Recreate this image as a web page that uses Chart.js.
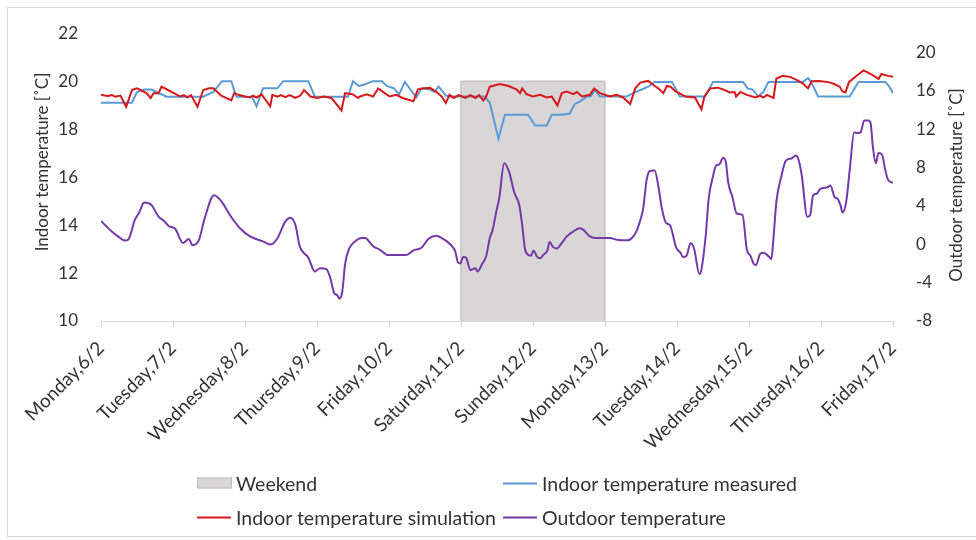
<!DOCTYPE html>
<html>
<head>
<meta charset="utf-8">
<script src="https://cdn.jsdelivr.net/npm/chart.js@4.4.1/dist/chart.umd.min.js"></script>
<style>
    body { margin: 0; background: #fff; }
    #wrap { position: relative; width: 976px; height: 540px; overflow: hidden; }
    #frame { position: absolute; left: 7px; top: 7px; width: 990px; height: 528px;
             border: 1px solid #d9d9d9; border-right: none; }
    #legend .item { position: absolute; transform: translateY(-50%); display: flex; align-items: center;
                    font: 19.5px Lato, sans-serif; color: #333; white-space: nowrap; }
    #legend .box { display: inline-block; width: 35px; height: 11px; margin-right: 4px;
                   border: 1px solid #bfbfbf; box-sizing: border-box; }
    #legend .line { display: inline-block; width: 34px; height: 2px; margin-right: 5px; }
</style>
</head>
<body>
<div id="wrap">
    <div id="frame"></div>
    <canvas id="chart-sheet" width="976" height="540"></canvas>
    <div id="legend"></div>
</div>
<script>
// x is in days, 0 = Monday 6/2 at midnight
var dayLabels = ['Monday,6/2', 'Tuesday,7/2', 'Wednesday,8/2', 'Thursday,9/2', 'Friday,10/2',
    'Saturday,11/2', 'Sunday,12/2', 'Monday,13/2', 'Tuesday,14/2', 'Wednesday,15/2',
    'Thursday,16/2', 'Friday,17/2'];

// tick values for the outdoor axis
var rightTicks = [-8, -4, 0, 4, 8, 12, 16, 20];

// weekend band: start and end day, top value on the indoor axis
var weekendDays = [5, 7];
var weekendTop = 20;

// indoor temperature measured [day, degC]
var measured = [[0, 19.1], [0.43, 19.1], [0.5, 19.55], [0.6, 19.65], [0.7, 19.65], [0.91, 19.35],
    [1.42, 19.35], [1.56, 19.55], [1.68, 20], [1.81, 20], [1.88, 19.35], [2.1, 19.35], [2.16, 18.95],
    [2.25, 19.7], [2.45, 19.7], [2.53, 20], [2.88, 20], [2.97, 19.35], [3.43, 19.35], [3.5, 20],
    [3.58, 19.8], [3.65, 19.85], [3.78, 20], [3.9, 20], [3.97, 19.8], [4.07, 19.7], [4.14, 19.45],
    [4.22, 19.97], [4.38, 19.32], [4.45, 19.7], [4.57, 19.65], [4.63, 19.55], [4.69, 19.77],
    [4.79, 19.4], [4.85, 19.36], [5.33, 19.36], [5.4, 19.1], [5.52, 17.6], [5.61, 18.6], [5.93, 18.6],
    [6.03, 18.15], [6.19, 18.15], [6.26, 18.6], [6.4, 18.6], [6.51, 18.65], [6.58, 19.05],
    [6.65, 19.15], [6.75, 19.36], [6.8, 19.36], [6.86, 19.63], [6.93, 19.36], [7.3, 19.36],
    [7.39, 19.5], [7.47, 19.6], [7.6, 19.77], [7.69, 19.97], [7.93, 19.97], [8.04, 19.36],
    [8.39, 19.36], [8.5, 19.97], [8.92, 19.97], [8.98, 19.7], [9.05, 19.65], [9.13, 19.36],
    [9.2, 19.55], [9.27, 19.97], [9.75, 19.97], [9.82, 20.13], [9.86, 19.97], [9.96, 19.36],
    [10.4, 19.36], [10.52, 19.97], [10.89, 19.97], [10.95, 19.77], [11, 19.5]];

// indoor temperature simulation [day, degC]
var simulation = [[0, 19.43], [0.05, 19.4], [0.1, 19.38], [0.15, 19.42], [0.2, 19.35], [0.27, 19.4],
    [0.35, 18.93], [0.43, 19.63], [0.5, 19.7], [0.57, 19.6], [0.63, 19.5], [0.69, 19.3], [0.73, 19.5],
    [0.8, 19.5], [0.84, 19.77], [0.95, 19.6], [1.1, 19.36], [1.15, 19.42], [1.2, 19.33], [1.25, 19.42],
    [1.34, 18.93], [1.42, 19.63], [1.5, 19.7], [1.56, 19.7], [1.67, 19.4], [1.81, 19.2], [1.85, 19.5],
    [1.91, 19.43], [2.0, 19.36], [2.07, 19.32], [2.11, 19.4], [2.16, 19.32], [2.23, 19.45],
    [2.35, 18.95], [2.38, 19.43], [2.45, 19.35], [2.5, 19.42], [2.56, 19.33], [2.62, 19.42],
    [2.7, 19.3], [2.77, 19.4], [2.82, 19.63], [2.91, 19.36], [3.0, 19.3], [3.1, 19.36], [3.2, 19.3],
    [3.34, 18.78], [3.39, 19.5], [3.5, 19.45], [3.57, 19.3], [3.6, 19.36], [3.69, 19.45],
    [3.78, 19.36], [3.85, 19.7], [3.94, 19.5], [4.01, 19.36], [4.1, 19.43], [4.19, 19.3],
    [4.34, 19.16], [4.4, 19.66], [4.49, 19.7], [4.57, 19.72], [4.66, 19.55], [4.73, 19.36],
    [4.79, 19.09], [4.84, 19.43], [4.9, 19.3], [4.97, 19.42], [5.06, 19.3], [5.13, 19.42],
    [5.2, 19.3], [5.25, 19.42], [5.31, 19.2], [5.35, 19.36], [5.4, 19.77], [5.54, 19.88],
    [5.66, 19.8], [5.77, 19.66], [5.82, 19.5], [5.85, 19.7], [5.91, 19.46], [6.0, 19.36],
    [6.1, 19.43], [6.19, 19.32], [6.26, 19.36], [6.34, 18.99], [6.4, 19.5], [6.47, 19.57],
    [6.56, 19.46], [6.61, 19.55], [6.68, 19.36], [6.79, 19.43], [6.85, 19.7], [6.93, 19.5],
    [7.07, 19.36], [7.16, 19.43], [7.25, 19.32], [7.35, 19.05], [7.42, 19.7], [7.49, 19.94],
    [7.6, 20.01], [7.69, 19.8], [7.74, 19.7], [7.81, 19.5], [7.86, 19.8], [7.91, 19.77],
    [7.98, 19.57], [8.03, 19.5], [8.12, 19.36], [8.25, 19.32], [8.34, 18.82], [8.38, 19.36],
    [8.46, 19.7], [8.57, 19.73], [8.66, 19.63], [8.73, 19.53], [8.8, 19.55], [8.82, 19.36],
    [8.88, 19.55], [8.97, 19.43], [9.09, 19.32], [9.15, 19.4], [9.2, 19.32], [9.25, 19.43],
    [9.34, 19.3], [9.38, 20.11], [9.47, 20.22], [9.57, 20.18], [9.66, 20.05], [9.75, 19.9],
    [9.82, 19.7], [9.87, 20], [9.98, 20.01], [10.12, 19.95], [10.19, 19.87], [10.26, 19.77],
    [10.3, 19.57], [10.34, 19.54], [10.39, 19.97], [10.5, 20.24], [10.59, 20.45], [10.7, 20.28],
    [10.8, 20.1], [10.84, 20.3], [10.93, 20.22], [11, 20.18]];

// outdoor temperature [day, degC]
var outdoor = [[0, 2.43], [0.07, 1.9], [0.15, 1.33], [0.24, 0.8], [0.33, 0.38], [0.38, 0.5],
    [0.47, 2.53], [0.53, 3.3], [0.6, 4.34], [0.7, 4.1], [0.8, 2.87], [0.88, 2.4], [0.94, 1.9],
    [1.03, 1.61], [1.14, 0.14], [1.22, 0.55], [1.27, -0.1], [1.36, 0.45], [1.44, 2.7], [1.57, 5.1],
    [1.68, 4.4], [1.79, 3.05], [1.93, 1.67], [2.07, 0.82], [2.25, 0.3], [2.35, -0.03], [2.44, 0.5],
    [2.56, 2.36], [2.63, 2.77], [2.7, 2.0], [2.76, -0.21], [2.88, -1.4], [2.97, -2.84], [3.04, -2.5],
    [3.13, -2.6], [3.18, -3.4], [3.24, -5.1], [3.28, -5.3], [3.31, -5.67], [3.35, -5.0],
    [3.39, -2.08], [3.44, -0.55], [3.53, 0.3], [3.62, 0.65], [3.67, 0.65], [3.74, 0.14],
    [3.78, -0.21], [3.87, -0.55], [3.99, -1.13], [4.24, -1.13], [4.34, -0.64], [4.45, -0.37],
    [4.55, 0.58], [4.66, 0.89], [4.73, 0.65], [4.85, 0.0], [4.92, -0.75], [4.96, -1.92], [4.99, -2.0],
    [5.03, -1.33], [5.07, -1.4], [5.13, -2.7], [5.2, -2.5], [5.23, -2.84], [5.29, -2.1],
    [5.35, -1.23], [5.4, 0.65], [5.44, 1.51], [5.49, 3.4], [5.53, 4.75], [5.6, 8.44], [5.67, 7.49],
    [5.74, 5.4], [5.81, 4.07], [5.85, 2.0], [5.89, -0.54], [5.94, -1.13], [5.97, -1.2], [6.01, -0.64],
    [6.05, -1.23], [6.1, -1.47], [6.14, -1.13], [6.2, -0.64], [6.23, 0.24], [6.28, -0.3],
    [6.33, -0.44], [6.4, 0.14], [6.47, 0.82], [6.56, 1.33], [6.65, 1.67], [6.7, 1.5], [6.79, 0.82],
    [6.86, 0.65], [7.07, 0.65], [7.16, 0.48], [7.32, 0.41], [7.38, 0.7], [7.44, 1.4], [7.49, 2.5],
    [7.53, 3.72], [7.58, 6.8], [7.63, 7.66], [7.69, 7.7], [7.74, 6.1], [7.79, 3.72], [7.85, 2.2],
    [7.9, 2.02], [7.99, -0.38], [8.05, -0.9], [8.08, -1.33], [8.13, -1.23], [8.19, 0.14],
    [8.24, -0.54], [8.31, -3.1], [8.34, -2.6], [8.4, 0.99], [8.44, 4.75], [8.5, 7.1], [8.54, 8.17],
    [8.59, 8.34], [8.64, 9.03], [8.68, 8.5], [8.71, 6.5], [8.77, 4.92], [8.83, 3.2], [8.91, 3.05],
    [8.97, -0.54], [9.02, -1.2], [9.07, -2.08], [9.1, -2.15], [9.15, -1.06], [9.2, -0.89],
    [9.29, -1.4], [9.31, -1.57], [9.34, 0.65], [9.38, 4.41], [9.45, 7.1], [9.51, 8.69], [9.59, 8.94],
    [9.65, 9.26], [9.68, 9.0], [9.73, 7.32], [9.81, 2.87], [9.85, 3.05], [9.89, 5.1], [9.94, 5.27],
    [9.99, 5.78], [10.09, 5.95], [10.13, 6.12], [10.19, 4.92], [10.23, 4.75], [10.27, 4.07],
    [10.3, 3.31], [10.35, 4.41], [10.4, 7.83], [10.46, 11.66], [10.52, 11.6], [10.55, 11.66],
    [10.6, 12.89], [10.66, 12.89], [10.69, 12.6], [10.72, 10.2], [10.76, 8.44], [10.8, 9.5],
    [10.85, 9.3], [10.89, 7.83], [10.93, 6.74], [11, 6.39]];

// where each legend entry sits (left, vertical centre)
var legendSpots = [[197, 483], [503, 483], [197, 517], [503, 517]];

var textColor = '#333';

// turns [day, value] pairs into chart points
function toPoints(pairs) {
    return pairs.map(function (p) { return {x: p[0], y: p[1]}; });
}

// draws both axis titles reading bottom to top
var axisTitles = {
    id: 'axisTitles',
    afterDraw: function (chart) {
        var ctx = chart.ctx;
        var titles = [
            [43, 162, 'Indoor temperature [˚C]'],
            [957, 185, 'Outdoor temperature [˚C]']
        ];
        ctx.save();
        ctx.font = '17px Lato';
        ctx.fillStyle = textColor;
        ctx.textAlign = 'center';
        ctx.textBaseline = 'middle';
        titles.forEach(function (t) {
            ctx.save();
            ctx.translate(t[0], t[1]);
            ctx.rotate(-Math.PI / 2);
            ctx.fillText(t[2], 0, 0);
            ctx.restore();
        });
        ctx.restore();
    }
};

// builds the legend as html, two entries per row
var htmlLegend = {
    id: 'htmlLegend',
    afterUpdate: function (chart) {
        var box = document.getElementById('legend');
        box.innerHTML = '';
        chart.data.datasets.forEach(function (ds, i) {
            var item = document.createElement('div');
            item.className = 'item';
            item.style.left = legendSpots[i][0] + 'px';
            item.style.top = legendSpots[i][1] + 'px';
            var mark = document.createElement('span');
            if (ds.fill) {
                mark.className = 'box';
                mark.style.background = ds.backgroundColor;
            } else {
                mark.className = 'line';
                mark.style.background = ds.borderColor;
            }
            item.appendChild(mark);
            item.appendChild(document.createTextNode(ds.label));
            box.appendChild(item);
        });
    }
};

Chart.defaults.font.family = 'Lato';
Chart.defaults.font.size = 17;
Chart.defaults.color = textColor;

var canvasContext = document.getElementById('chart-sheet').getContext('2d');

var chart = new Chart(canvasContext, {
    type: 'line',
    data: {
        datasets: [{
            label: 'Weekend',
            data: [
                {x: weekendDays[0], y: 10}, {x: weekendDays[0], y: weekendTop},
                {x: weekendDays[1], y: weekendTop}, {x: weekendDays[1], y: 10}
            ],
            yAxisID: 'y',
            fill: 'start',
            backgroundColor: 'rgb(216,214,215)',
            borderColor: 'rgb(196,196,196)',
            borderWidth: 1.5,
            pointRadius: 0,
            order: 3
        }, {
            label: 'Indoor temperature measured',
            data: toPoints(measured),
            yAxisID: 'y',
            borderColor: '#5b9bd5',
            borderWidth: 2,
            pointRadius: 0,
            fill: false,
            order: 2
        }, {
            label: 'Indoor temperature simulation',
            data: toPoints(simulation),
            yAxisID: 'y',
            borderColor: '#d7191c',
            borderWidth: 2,
            pointRadius: 0,
            fill: false,
            order: 1
        }, {
            label: 'Outdoor temperature',
            data: toPoints(outdoor),
            yAxisID: 'y2',
            borderColor: '#7438a8',
            borderWidth: 2,
            pointRadius: 0,
            fill: false,
            cubicInterpolationMode: 'monotone',
            order: 1
        }]
    },
    options: {
        responsive: false,
        animation: false,
        layout: { padding: { top: 27, left: 0, right: 0, bottom: 0 } },
        plugins: {
            legend: { display: false },
            tooltip: { enabled: false }
        },
        scales: {
            x: {
                type: 'linear',
                min: 0,
                max: dayLabels.length - 1,
                ticks: {
                    stepSize: 1,
                    autoSkip: false,
                    minRotation: 45,
                    maxRotation: 45,
                    padding: 10,
                    font: { size: 19 },
                    callback: function (v) { return dayLabels[v]; }
                },
                grid: { drawOnChartArea: false, drawTicks: true, tickLength: 6, color: '#d9d9d9' },
                border: { display: true, color: '#d9d9d9' },
                afterFit: function (s) { s.height = 219; }
            },
            y: {
                position: 'left',
                min: 10,
                max: 22,
                ticks: { stepSize: 2, padding: 23 },
                grid: { display: false, drawTicks: false },
                border: { display: false },
                afterFit: function (s) { s.width = 101; }
            },
            y2: {
                position: 'right',
                min: -8,
                max: 22,
                ticks: { padding: 23 },
                afterBuildTicks: function (s) {
                    s.ticks = rightTicks.map(function (v) { return {value: v}; });
                },
                grid: { display: false, drawTicks: false },
                border: { display: false },
                afterFit: function (s) { s.width = 83; }
            }
        }
    },
    plugins: [htmlLegend, axisTitles]
});
</script>
</body>
</html>
